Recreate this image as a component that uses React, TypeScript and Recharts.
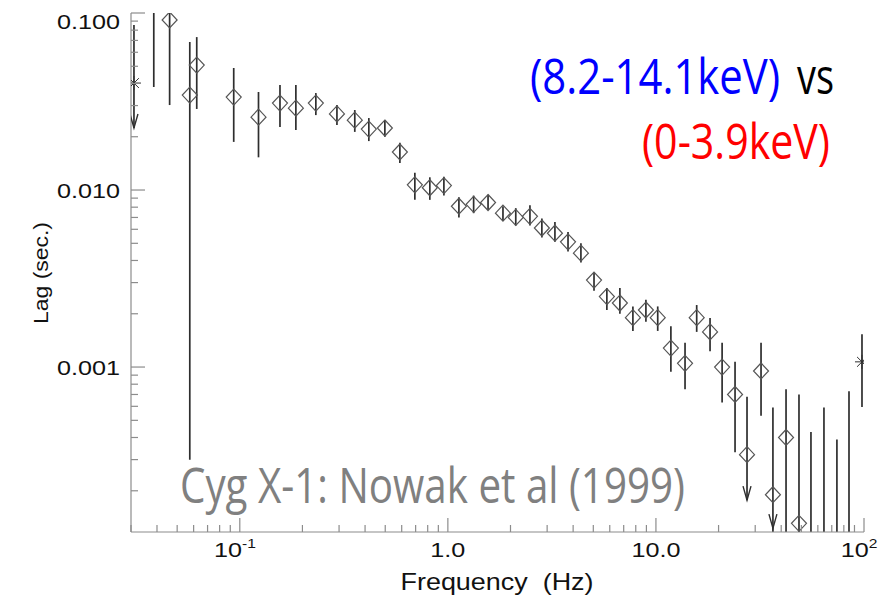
import React from "react";
import { ErrorBar, Scatter, ScatterChart, XAxis, YAxis } from "recharts";

// cross-spectrum time lag, Cyg X-1 (diamonds with 1-sigma bars)
const freq = [
  0.0386, 0.046, 0.0575, 0.0621, 0.0935, 0.123, 0.156, 0.186, 0.232, 0.293,
  0.357, 0.417, 0.498, 0.588, 0.694, 0.819, 0.957, 1.13, 1.33, 1.56,
  1.84, 2.12, 2.48, 2.83, 3.27, 3.78, 4.36, 5.04, 5.81, 6.71,
  7.75, 8.95, 10.2, 11.8, 13.8, 15.7, 18.2, 20.8, 24.0, 27.4,
  32.0, 36.5, 42.2, 48.7, 55.6, 64.2, 74.1, 84.7,
];
const lag = [
  0.13, 0.0913, 0.0344, 0.0508, 0.0335, 0.0258, 0.031, 0.029, 0.031, 0.0269,
  0.0248, 0.0221, 0.0224, 0.0164, 0.0107, 0.0103, 0.0106, 0.0081, 0.0083, 0.0085,
  0.0074, 0.007, 0.0071, 0.0061, 0.0057, 0.0051, 0.0044, 0.0031, 0.0025, 0.0023,
  0.0019, 0.0021, 0.0019, 0.00128, 0.00105, 0.0019, 0.00158, 0.001, 0.0007, 0.00032,
  0.00095, 0.00019, 0.0004, 0.000131, 0.00009, 0.00009, 0.00009, 0.00009,
];
const lagLow = [
  0.0382, 0.0302, 0.000299, 0.0287, 0.0187, 0.0153, 0.0227, 0.0218, 0.0265, 0.0233,
  0.0213, 0.0189, 0.02, 0.0142, 0.0088, 0.0088, 0.0093, 0.007, 0.0074, 0.0077,
  0.0067, 0.0063, 0.0063, 0.0054, 0.0051, 0.0045, 0.0039, 0.0027, 0.0021, 0.002,
  0.0016, 0.0018, 0.0016, 0.00094, 0.00075, 0.00158, 0.00123, 0.00063, 0.00033, 0.000177,
  0.00053, 0.00005, 0.00005, 0.00005, 0.00005, 0.00005, 0.00005, 0.00005,
];
const lagHigh = [
  0.2, 0.2, 0.0686, 0.0731, 0.0489, 0.0358, 0.0392, 0.0392, 0.0353, 0.0302,
  0.0283, 0.0255, 0.0248, 0.0185, 0.0125, 0.0118, 0.0119, 0.0091, 0.0093, 0.0094,
  0.0081, 0.0079, 0.0082, 0.0069, 0.0066, 0.0058, 0.005, 0.0034, 0.0028, 0.0028,
  0.0022, 0.0024, 0.0022, 0.0017, 0.00137, 0.00224, 0.00189, 0.00137, 0.00107, 0.00068,
  0.00137, 0.00059, 0.00075, 0.0007, 0.00043, 0.00059, 0.00039, 0.00073,
];

// end bins plotted as asterisks
const starFreq = [0.031, 97.8];
const starLag = [0.0402, 0.00107];
const starLow = [0.0224, 0.000594];
const starHigh = [0.0855, 0.00153];

// upper-limit arrow heads
const arrowFreq = [0.031, 27.4, 36.5];
const arrowLag = [0.0224, 0.000177, 0.000123];

const xMajor = [0.1, 1, 10, 100];
const xLabelBase = ["10", "1.0", "10.0", "10"];
const xLabelExp = ["-1", "", "", "2"];
const yMajor = [0.001, 0.01, 0.1];
const yLabels = ["0.001", "0.010", "0.100"];

const minors = (decades: number[]) =>
  decades.flatMap((d) => [2, 3, 4, 5, 6, 7, 8, 9].map((m) => +(m * d).toPrecision(3)));
const xTicks = [0.03, 0.04, 0.05, 0.06, 0.07, 0.08, 0.09, ...xMajor, ...minors([0.1, 1, 10])];
const yTicks = [...yMajor, ...minors([0.0001, 0.001, 0.01])];

const X_DOMAIN = [0.03, 100];
const Y_DOMAIN = [0.000117, 0.1];

// bars are cut at the plot frame, like the original
const clampY = (v: number) => Math.min(Math.max(v, Y_DOMAIN[0]), Y_DOMAIN[1]);
const inY = (v: number) => v >= Y_DOMAIN[0] && v <= Y_DOMAIN[1];

const pts = freq.map((f, i) => {
  const c = clampY(lag[i]);
  return {
    f,
    lag: c,
    shown: inY(lag[i]),
    err: [c - clampY(lagLow[i]), clampY(lagHigh[i]) - c],
  };
});
const stars = starFreq.map((f, i) => ({
  f,
  lag: starLag[i],
  shown: true,
  err: [starLag[i] - clampY(starLow[i]), clampY(starHigh[i]) - starLag[i]],
}));
const arrows = arrowFreq.map((f, i) => ({ f, lag: arrowLag[i] }));

const FRAME = "#8c8c8c";
const INK = "#2e2e2e";
const TICK_FONT = "'Liberation Sans', Arial, sans-serif";
const NOTE_FONT = "'Open Sans', sans-serif";

const isMajor = (list: number[], v: number) => list.findIndex((m) => Math.abs(m - v) / m < 1e-6);

function XTick(props: any) {
  const { x, y, payload, side } = props;
  const i = isMajor(xMajor, payload.value);
  const len = i >= 0 ? 14 : 7;
  const dir = side === "bottom" ? -1 : 1;
  return (
    <g>
      <line x1={x} y1={y} x2={x} y2={y + dir * len} stroke={FRAME} strokeWidth={1.2} />
      {side === "bottom" && i >= 0 && (
        <g transform={`translate(${x},${y + 25}) scale(1.2,1)`}>
          <text x={xLabelExp[i] ? -4 : 0} y={0} textAnchor="middle" fontFamily={TICK_FONT} fontSize={21} fill="#111">
            {xLabelBase[i]}
            {xLabelExp[i] && (
              <tspan dy={-9} fontSize={13}>
                {xLabelExp[i]}
              </tspan>
            )}
          </text>
        </g>
      )}
    </g>
  );
}

function YTick(props: any) {
  const { x, y, payload, side } = props;
  const i = isMajor(yMajor, payload.value);
  const len = i >= 0 ? 14 : 7;
  const dir = side === "left" ? 1 : -1;
  return (
    <g>
      <line x1={x} y1={y} x2={x + dir * len} y2={y} stroke={FRAME} strokeWidth={1.2} />
      {side === "left" && i >= 0 && (
        <g transform={`translate(${x - 11},${Math.max(y, 21) + 7.5}) scale(1.2,1)`}>
          <text textAnchor="end" fontFamily={TICK_FONT} fontSize={21} fill="#111">
            {yLabels[i]}
          </text>
        </g>
      )}
    </g>
  );
}

const Diamond = (p: any) => {
  const { cx, cy, payload } = p;
  if (cx == null || cy == null || !payload?.shown) return <g />;
  return (
    <path
      d={`M${cx},${cy - 8}L${cx + 7.5},${cy}L${cx},${cy + 8}L${cx - 7.5},${cy}Z`}
      fill="none"
      stroke="#555"
      strokeWidth={1.2}
    />
  );
};

const Asterisk = (p: any) => {
  const { cx, cy } = p;
  const r = 7;
  const d = r * 0.7;
  return (
    <path
      d={`M${cx - r},${cy}H${cx + r}M${cx},${cy - r}V${cy + r}M${cx - d},${cy - d}L${cx + d},${cy + d}M${cx - d},${cy + d}L${cx + d},${cy - d}`}
      stroke={INK}
      strokeWidth={1}
      fill="none"
    />
  );
};

const ArrowHead = (p: any) => {
  const { cx, cy } = p;
  return (
    <path
      d={`M${cx - 4},${cy - 14}L${cx},${cy}L${cx + 4},${cy - 14}`}
      stroke={INK}
      strokeWidth={1.4}
      fill="none"
    />
  );
};

// condensed annotation text: squeezed by a transform so its box is the drawn box
function Note(props: { x: number; y: number; sx: number; width: number; fill: string; children: string }) {
  const { x, y, sx, width, fill, children } = props;
  return (
    <g transform={`translate(${x},${y}) scale(${sx},1)`}>
      <text
        fontFamily={NOTE_FONT}
        fontSize={49}
        textLength={width / sx}
        lengthAdjust="spacingAndGlyphs"
        fill={fill}
      >
        {children}
      </text>
    </g>
  );
}

export default function App() {
  return (
    <div style={{ position: "absolute", left: 0, top: 0, width: 881, height: 604, background: "#fff" }}>
      <ScatterChart width={881} height={604} margin={{ top: 13, right: 17, left: 0, bottom: 0 }}>
        <XAxis
          dataKey="f"
          type="number"
          scale="log"
          domain={X_DOMAIN}
          allowDataOverflow
          ticks={xTicks}
          interval={0}
          height={72}
          tickSize={0}
          tickMargin={0}
          tickLine={false}
          axisLine={{ stroke: FRAME, strokeWidth: 1.2 }}
          tick={<XTick side="bottom" />}
        />
        <XAxis
          xAxisId="top"
          orientation="top"
          type="number"
          scale="log"
          domain={X_DOMAIN}
          allowDataOverflow
          ticks={xTicks}
          interval={0}
          height={0}
          tickSize={0}
          tickMargin={0}
          tickLine={false}
          axisLine={{ stroke: FRAME, strokeWidth: 1.2 }}
          tick={<XTick side="top" />}
        />
        <YAxis
          dataKey="lag"
          type="number"
          scale="log"
          domain={Y_DOMAIN}
          allowDataOverflow
          ticks={yTicks}
          interval={0}
          width={131}
          tickSize={0}
          tickMargin={0}
          tickLine={false}
          axisLine={{ stroke: FRAME, strokeWidth: 1.2 }}
          tick={<YTick side="left" />}
        />
        <YAxis
          yAxisId="right"
          orientation="right"
          type="number"
          scale="log"
          domain={Y_DOMAIN}
          allowDataOverflow
          ticks={yTicks}
          interval={0}
          width={0}
          tickSize={0}
          tickMargin={0}
          tickLine={false}
          axisLine={{ stroke: FRAME, strokeWidth: 1.2 }}
          tick={<YTick side="right" />}
        />
        <Scatter data={pts} shape={Diamond} isAnimationActive={false}>
          <ErrorBar dataKey="err" direction="y" width={0} stroke={INK} strokeWidth={1.7} />
        </Scatter>
        <Scatter data={stars} shape={Asterisk} isAnimationActive={false}>
          <ErrorBar dataKey="err" direction="y" width={0} stroke={INK} strokeWidth={1.7} />
        </Scatter>
        <Scatter data={arrows} shape={ArrowHead} isAnimationActive={false} />
      </ScatterChart>
      <svg
        width={881}
        height={604}
        style={{ position: "absolute", left: 0, top: 0, pointerEvents: "none" }}
      >
        <text
          x={497}
          y={590}
          textAnchor="middle"
          fontFamily={TICK_FONT}
          fontSize={24}
          textLength={193}
          lengthAdjust="spacingAndGlyphs"
          fill="#111"
        >
          {"Frequency\u00a0\u00a0(Hz)"}
        </text>
        <text
          transform="translate(48,273) rotate(-90)"
          textAnchor="middle"
          fontFamily={TICK_FONT}
          fontSize={21}
          textLength={102}
          lengthAdjust="spacingAndGlyphs"
          fill="#111"
        >
          Lag (sec.)
        </text>
        <Note x={530} y={94} sx={0.85} width={250} fill="#0000ff">
          (8.2-14.1keV)
        </Note>
        <Note x={797} y={94} sx={0.78} width={37} fill="#000">
          vs
        </Note>
        <Note x={642} y={159} sx={0.85} width={188} fill="#ff0000">
          (0-3.9keV)
        </Note>
        <Note x={180} y={503} sx={0.72} width={505} fill="#808080">
          Cyg X-1: Nowak et al (1999)
        </Note>
      </svg>
    </div>
  );
}
